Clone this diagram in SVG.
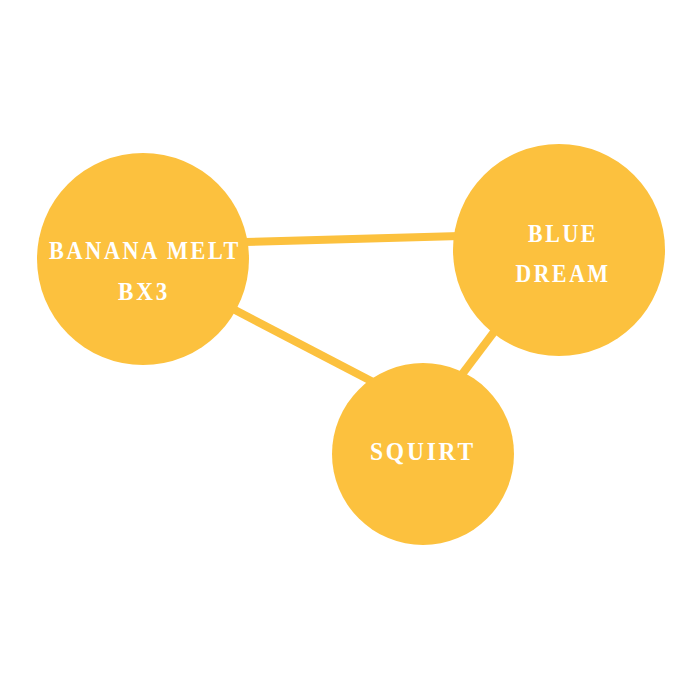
<svg xmlns="http://www.w3.org/2000/svg" width="700" height="700" viewBox="0 0 700 700">
<style>
.node{fill:#FCC13E}
.edge{stroke:#FCC13E;stroke-width:8;fill:none}
.lbl{font-family:"Liberation Serif","DejaVu Serif",serif;font-weight:bold;font-size:25px;fill:#FFFFFF;text-anchor:middle;letter-spacing:3px}
</style>
<rect width="700" height="700" fill="#FFFFFF"/>
<g id="connectors">
<line class="edge" x1="245" y1="242" x2="460" y2="236"/>
<line class="edge" x1="235" y1="310" x2="375" y2="383"/>
<line class="edge" x1="497" y1="328" x2="460" y2="377"/>
</g>
<g id="banana-melt">
<circle class="node" cx="143" cy="259" r="106"/>
<text class="lbl" x="145" y="259" textLength="192" lengthAdjust="spacingAndGlyphs">BANANA MELT</text>
<text class="lbl" x="144" y="300" textLength="52" lengthAdjust="spacingAndGlyphs">BX3</text>
</g>
<g id="blue-dream">
<circle class="node" cx="559" cy="250" r="106"/>
<text class="lbl" x="563" y="242" textLength="70" lengthAdjust="spacingAndGlyphs">BLUE</text>
<text class="lbl" x="563" y="282" textLength="95" lengthAdjust="spacingAndGlyphs">DREAM</text>
</g>
<g id="squirt">
<circle class="node" cx="423" cy="454" r="91"/>
<text class="lbl" x="423" y="460" textLength="106" lengthAdjust="spacingAndGlyphs">SQUIRT</text>
</g>
</svg>
